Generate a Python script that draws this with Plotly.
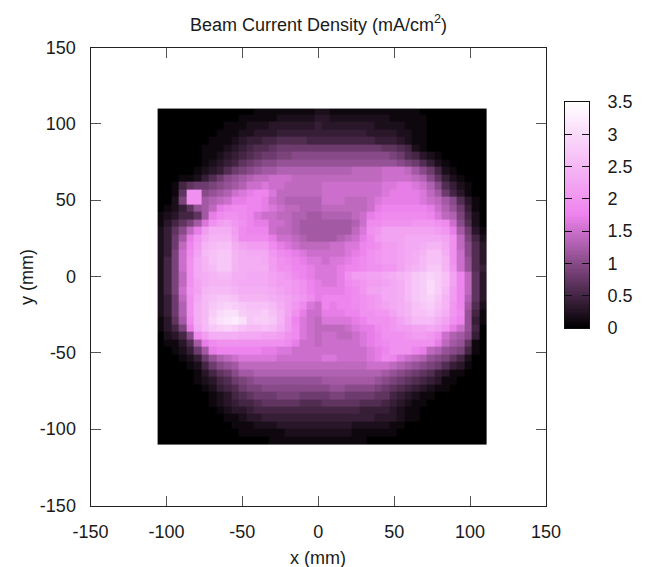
import numpy as np
import plotly.graph_objects as go

# Beam current density in tenths of mA/cm2, read cell by cell, top row first
density_tenths_rows = [
[0,0,0,0,0,0,0,0,0,0,0,0,0,1,1,1,1,1,1,1,1,2,2,1,1,1,1,1,1,1,1,1,1,1,1,0,0,0,0,0,0,0,0,0],
[0,0,0,0,0,0,0,0,0,0,0,1,1,1,1,1,2,2,2,2,2,3,3,2,2,2,2,2,2,2,2,1,1,1,1,1,0,0,0,0,0,0,0,0],
[0,0,0,0,0,0,0,0,0,1,1,1,2,2,2,3,3,3,3,3,3,4,3,3,3,3,3,3,3,2,2,2,2,1,1,1,0,0,0,0,0,0,0,0],
[0,0,0,0,0,0,0,0,1,1,1,2,2,3,3,3,4,4,4,4,4,4,4,4,4,4,4,4,3,3,3,3,2,2,1,1,0,0,0,0,0,0,0,0],
[0,0,0,0,0,0,0,1,1,1,2,3,4,4,5,5,6,6,6,6,5,5,5,5,5,5,5,5,5,4,4,4,3,2,1,1,0,0,0,0,0,0,0,0],
[0,0,0,0,0,0,1,1,1,2,3,4,5,6,6,7,8,8,8,8,8,8,8,8,8,8,8,8,8,8,7,7,6,5,2,1,0,0,0,0,0,0,0,0],
[0,0,0,0,0,0,1,1,2,3,4,5,6,7,8,8,9,9,10,10,10,10,10,10,10,10,10,10,10,10,10,9,8,6,5,3,2,1,0,0,0,0,0,0],
[0,0,0,0,0,0,1,2,3,4,5,7,8,9,10,10,11,11,11,11,11,11,11,11,11,11,11,11,11,11,11,11,10,9,8,6,4,2,1,0,0,0,0,0],
[0,0,0,0,0,1,2,3,4,6,8,9,10,11,12,12,13,13,13,13,13,13,13,13,13,13,14,14,14,14,15,15,15,14,12,10,8,5,2,1,0,0,0,0],
[0,0,0,1,1,2,4,6,8,10,11,12,13,14,14,15,15,15,14,14,14,14,14,14,14,14,14,14,14,14,15,15,15,15,14,13,10,7,4,2,1,0,0,0],
[0,0,1,5,7,8,8,9,10,11,12,13,15,15,16,15,15,14,14,14,14,14,15,15,15,15,15,15,15,15,16,16,17,17,16,15,13,10,6,4,2,1,0,0],
[0,0,1,7,20,20,10,11,12,13,15,16,17,18,18,16,14,14,14,14,14,14,15,15,15,15,15,15,15,15,16,17,17,17,17,16,14,12,8,5,3,1,0,0],
[0,0,2,9,20,20,12,13,14,15,17,17,18,18,17,15,14,13,13,13,13,13,15,15,15,14,14,14,15,16,17,17,17,17,17,16,15,14,12,10,6,3,1,0],
[0,1,2,4,7,11,12,14,17,18,19,19,18,18,17,16,15,14,14,13,13,13,14,14,14,14,14,14,15,17,18,18,18,18,18,18,17,15,13,11,8,4,1,0],
[1,2,3,5,5,7,12,17,19,20,20,19,18,16,15,15,14,14,13,13,12,12,13,13,13,13,14,15,17,18,19,19,19,19,19,19,18,16,14,13,9,5,2,0],
[1,3,5,7,9,12,16,20,22,23,21,20,18,17,17,15,15,14,13,12,12,12,12,12,12,12,13,15,19,19,20,20,20,20,21,21,21,20,19,15,10,6,2,0],
[2,4,7,10,14,17,22,25,25,25,22,19,18,18,18,15,14,14,13,12,12,12,12,12,12,12,14,16,20,21,23,23,23,23,23,23,23,22,21,17,12,8,3,1],
[2,4,8,12,17,21,24,26,26,26,23,19,19,19,19,17,15,15,14,13,12,12,12,12,13,14,15,17,19,22,23,23,23,24,24,24,24,24,23,20,14,9,5,2],
[2,4,8,14,18,22,26,27,28,28,25,23,22,22,22,19,17,16,15,14,14,14,14,15,15,16,16,18,19,20,22,22,23,24,24,25,26,26,24,20,14,10,6,3],
[2,4,9,15,19,23,27,28,29,29,26,25,24,24,24,21,19,18,17,16,15,15,15,15,15,16,17,18,20,21,22,22,23,24,25,26,28,28,25,20,15,10,6,3],
[2,5,9,15,20,24,26,28,29,29,26,25,25,25,24,22,20,19,18,17,16,16,15,16,16,17,18,19,20,21,22,22,23,24,25,27,28,28,26,20,15,11,6,3],
[2,5,9,15,20,24,26,27,29,29,26,25,25,25,25,22,20,20,18,18,17,16,16,16,17,18,18,19,20,20,21,21,23,25,26,27,29,29,26,21,15,11,6,4],
[2,5,9,14,20,24,25,26,27,27,25,25,24,24,24,23,22,21,19,18,17,16,16,16,17,20,22,22,23,23,24,25,26,27,29,30,31,30,28,23,18,14,7,3],
[2,5,9,14,20,23,25,26,26,26,25,24,24,24,24,23,22,22,21,20,18,17,16,16,17,19,20,21,22,22,23,24,25,27,29,30,32,30,28,23,18,14,7,3],
[2,5,9,15,21,23,26,27,27,27,26,25,25,25,25,24,23,22,21,20,18,17,17,17,17,18,19,21,23,23,24,24,25,27,29,30,32,30,27,22,18,14,7,3],
[2,4,8,14,20,24,27,28,29,29,28,26,26,26,26,25,24,23,22,21,19,17,18,18,18,18,19,20,21,22,24,24,25,27,29,30,31,29,26,22,18,13,7,3],
[2,4,8,13,20,25,27,29,30,31,30,29,28,28,28,27,25,23,21,19,16,15,18,17,18,18,19,20,21,22,23,24,25,26,28,29,30,28,26,21,18,12,6,2],
[2,4,8,13,20,25,27,30,32,33,33,30,29,29,30,28,26,23,20,17,15,15,17,17,17,18,18,20,20,21,21,23,25,26,28,28,29,27,25,21,19,11,5,1],
[1,3,7,12,19,25,27,31,33,34,35,33,29,30,30,29,26,22,18,16,15,14,16,16,16,16,17,18,20,20,20,21,23,25,27,27,27,25,23,20,18,11,4,1],
[1,3,5,9,17,24,27,29,30,31,30,28,27,27,28,27,25,22,19,16,15,14,14,14,14,15,16,17,17,19,20,21,22,22,23,23,24,23,21,17,15,11,5,0],
[0,2,3,5,10,19,22,25,25,25,25,24,24,24,23,23,22,20,19,16,15,14,15,15,14,14,15,16,17,18,20,20,20,21,22,22,21,19,15,13,12,10,4,0],
[0,1,1,3,6,12,17,19,20,20,20,20,20,20,20,20,20,19,17,15,15,14,15,15,15,15,15,16,17,18,19,20,20,20,20,20,20,17,14,12,11,7,1,0],
[0,0,1,2,4,8,12,17,18,18,18,18,18,18,17,17,16,16,15,15,15,15,15,15,15,15,15,15,16,17,18,20,20,20,18,17,14,13,11,10,9,5,1,0],
[0,0,0,1,2,4,8,11,13,14,15,16,16,16,16,16,15,15,15,15,15,15,16,16,15,15,15,15,16,17,19,18,16,15,14,13,11,10,9,7,5,2,0,0],
[0,0,0,0,1,2,5,8,10,11,12,14,14,14,14,14,14,14,14,14,14,14,14,14,14,14,14,14,15,15,15,14,13,12,11,10,9,8,6,4,3,1,0,0],
[0,0,0,0,0,1,3,5,7,8,10,12,12,13,13,13,13,13,13,13,13,13,13,13,13,13,13,13,13,13,12,11,10,9,8,7,6,4,3,1,1,0,0,0],
[0,0,0,0,0,1,2,3,5,6,8,9,10,11,11,11,11,11,11,11,11,11,12,12,12,12,12,12,12,11,10,9,8,7,6,5,4,3,1,1,0,0,0,0],
[0,0,0,0,0,0,1,2,4,5,6,8,9,9,10,10,10,10,10,10,10,10,10,11,11,10,10,10,10,9,8,7,6,5,4,3,2,1,1,0,0,0,0,0],
[0,0,0,0,0,0,0,1,2,3,5,6,7,8,8,8,9,9,9,8,8,8,8,9,9,8,8,8,8,7,7,5,4,3,2,1,1,0,0,0,0,0,0,0],
[0,0,0,0,0,0,0,1,2,3,4,5,5,6,7,7,7,7,7,6,6,6,7,7,7,7,7,6,6,6,5,4,3,2,1,1,0,0,0,0,0,0,0,0],
[0,0,0,0,0,0,0,0,1,2,3,3,4,5,5,5,5,5,5,5,5,5,5,5,5,5,5,4,4,4,4,3,2,1,1,0,0,0,0,0,0,0,0,0],
[0,0,0,0,0,0,0,0,0,1,1,2,3,3,4,4,4,4,4,4,4,4,4,4,4,4,4,4,4,3,3,3,2,1,1,0,0,0,0,0,0,0,0,0],
[0,0,0,0,0,0,0,0,0,0,1,1,1,2,2,2,3,3,3,3,3,3,3,3,3,3,2,2,2,2,2,1,1,0,0,0,0,0,0,0,0,0,0,0],
[0,0,0,0,0,0,0,0,0,0,0,1,1,1,1,1,1,2,2,2,2,2,2,2,2,2,1,1,1,1,1,1,0,0,0,0,0,0,0,0,0,0,0,0],
[0,0,0,0,0,0,0,0,0,0,0,0,0,0,0,1,1,1,1,1,1,1,1,1,1,1,1,1,0,0,0,0,0,0,0,0,0,0,0,0,0,0,0,0],
]

x_ticks = [-150, -100, -50, 0, 50, 100, 150]
y_ticks = [-150, -100, -50, 0, 50, 100, 150]
scale_ticks = [0, 0.5, 1, 1.5, 2, 2.5, 3, 3.5]
scale_labels = ["0", "0.5", "1", "1.5", "2", "2.5", "3", "3.5"]

title_text = "Beam Current Density (mA/cm<sup>2</sup>)"
x_title = "x (mm)"
y_title = "y (mm)"

W, H = 646, 567
FONT = "Liberation Sans"
FS = 18
colorscale = [[0, "#000000"], [0.5, "#ee82ee"], [1, "#ffffff"]]

density = np.array(density_tenths_rows, dtype=float) / 10.0
# readings above the violet midpoint were judged slightly high by eye
density = np.where(density > 1.7, 1.7 + (density - 1.7) * 0.85, density)
n_rows, n_cols = density.shape
# grid edges: first and last cells are cut by the map boundary
x_edges = [-105.8] + [-101.6 + 4.945 * i for i in range(n_cols - 1)] + [110.6]
y_edges_top_down = [110.0] + [106.1 - 4.905 * i for i in range(n_rows - 1)] + [-110.3]
y_edges = y_edges_top_down[::-1]

ramp = np.linspace(0, 3.5, 176)

fig = go.Figure()
fig.add_trace(go.Heatmap(
    z=density[::-1], x=x_edges, y=y_edges, zmin=0, zmax=3.5,
    colorscale=colorscale, showscale=False, hoverongaps=False,
    xaxis="x", yaxis="y"))
fig.add_trace(go.Heatmap(
    z=[[v] for v in ramp], x=[0], y=ramp, zmin=0, zmax=3.5,
    colorscale=colorscale, showscale=False, xaxis="x2", yaxis="y2"))

axis_common = dict(
    showgrid=False, zeroline=False, ticks="inside", ticklen=10, tickwidth=1,
    tickcolor="#555555", linecolor="#222222", linewidth=1, mirror="allticks",
    ticklabelstandoff=10,
    tickfont=dict(family=FONT, size=FS, color="#1a1a1a"))

def px_x(p):
    return p / W

def px_y(p):
    return 1 - p / H

fig.update_layout(
    width=W, height=H, margin=dict(l=0, r=0, t=0, b=0, autoexpand=False),
    paper_bgcolor="white", plot_bgcolor="white",
    font=dict(family=FONT, size=FS, color="#1a1a1a"),
    showlegend=False,
    xaxis=dict(axis_common, domain=[px_x(90.5), px_x(546)], range=[-150, 150],
               tickvals=x_ticks, ticktext=[str(v) for v in x_ticks], anchor="y"),
    yaxis=dict(axis_common, domain=[px_y(505.5), px_y(47.5)], range=[-150, 150],
               tickvals=y_ticks, ticktext=[str(v) for v in y_ticks], anchor="x"),
    xaxis2=dict(domain=[px_x(564.5), px_x(589)], range=[-0.5, 0.5], anchor="y2",
                showticklabels=False, ticks="", showgrid=False, zeroline=False,
                showline=True, linecolor="#111111", linewidth=1, mirror=True),
    yaxis2=dict(domain=[px_y(328), px_y(102)], range=[0, 3.5], anchor="x2", side="right",
                tickvals=scale_ticks, ticktext=scale_labels, ticks="inside", ticklen=7,
                tickwidth=1, tickcolor="#111111", showgrid=False, zeroline=False,
                showline=True, linecolor="#111111", linewidth=1, mirror="allticks",
                ticklabelstandoff=14,
                tickfont=dict(family=FONT, size=FS, color="#1a1a1a")),
    annotations=[
        dict(text=title_text, xref="paper", yref="paper", x=px_x(318), y=px_y(23),
             xanchor="center", yanchor="middle", showarrow=False,
             font=dict(family=FONT, size=FS, color="#1a1a1a")),
        dict(text=x_title, xref="paper", yref="paper", x=px_x(318), y=px_y(558),
             xanchor="center", yanchor="middle", showarrow=False,
             font=dict(family=FONT, size=FS, color="#1a1a1a")),
        dict(text=y_title, xref="paper", yref="paper", x=px_x(27), y=px_y(277),
             xanchor="center", yanchor="middle", textangle=-90, showarrow=False,
             font=dict(family=FONT, size=FS, color="#1a1a1a")),
    ],
)

fig.write_html("out.html", config=dict(displayModeBar=False),
               post_script="document.body.style.margin='0';")
